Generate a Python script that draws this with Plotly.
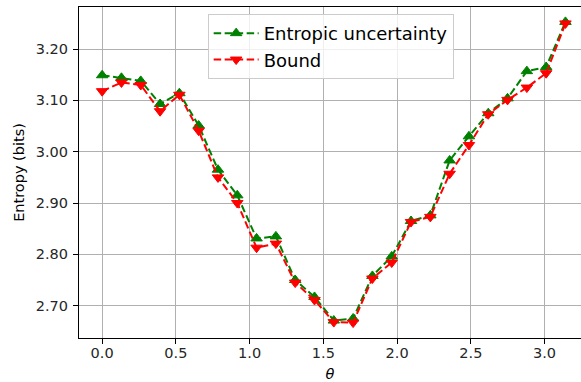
import plotly.graph_objects as go

theta = [0.0, 0.1309, 0.2618, 0.3927, 0.5236, 0.6545, 0.7854, 0.9163, 1.0472,
         1.1781, 1.3090, 1.4399, 1.5708, 1.7017, 1.8326, 1.9635, 2.0944, 2.2253,
         2.3562, 2.4871, 2.6180, 2.7489, 2.8798, 3.0107, 3.1416]
entropic = [3.149, 3.144, 3.138, 3.093, 3.114, 3.051, 2.965, 2.915, 2.831, 2.835,
            2.750, 2.717, 2.671, 2.675, 2.758, 2.796, 2.865, 2.876, 2.983, 3.030,
            3.075, 3.104, 3.157, 3.165, 3.253]
bound = [3.118, 3.135, 3.130, 3.079, 3.111, 3.041, 2.950, 2.900, 2.813, 2.821,
         2.745, 2.711, 2.668, 2.667, 2.753, 2.784, 2.863, 2.873, 2.957, 3.013,
         3.073, 3.101, 3.125, 3.153, 3.250]
x_ticks = [0.0, 0.5, 1.0, 1.5, 2.0, 2.5, 3.0]
y_ticks = [2.70, 2.80, 2.90, 3.00, 3.10, 3.20]

FONT = "DejaVu Sans"
dash = "7.5px,3.5px"

fig = go.Figure()
fig.add_trace(go.Scatter(
    x=theta, y=entropic, mode="lines+markers", name="Entropic uncertainty",
    line=dict(color="green", width=2, dash=dash),
    marker=dict(symbol="triangle-up", size=10, color="green",
                line=dict(color="green", width=1)),
))
fig.add_trace(go.Scatter(
    x=theta, y=bound, mode="lines+markers", name="Bound",
    line=dict(color="red", width=2, dash=dash),
    marker=dict(symbol="triangle-down", size=10, color="red",
                line=dict(color="red", width=1)),
))

axis_common = dict(
    showgrid=True, gridcolor="#b0b0b0", gridwidth=1,
    showline=True, linecolor="black", linewidth=1.1,
    ticks="outside", ticklen=5, tickwidth=1.1, tickcolor="black",
    zeroline=False, automargin=False,
    tickfont=dict(family=FONT, size=14.5, color="#262626"),
)

fig.update_layout(
    width=581, height=382,
    margin=dict(l=78.5, r=0, t=7, b=44),
    paper_bgcolor="white", plot_bgcolor="white",
    font=dict(family=FONT, size=14.5, color="black"),
    xaxis=dict(
        range=[-0.157, 3.247], tickvals=x_ticks, tickformat=".1f",
        mirror=True, ticklabelstandoff=-3,
        title=dict(text="<i>θ</i>", font=dict(family=FONT, size=14.5), standoff=9),
        **axis_common,
    ),
    yaxis=dict(
        range=[2.637, 3.282], tickvals=y_ticks, tickformat=".2f",
        ticklabelstandoff=2,
        title=dict(text="Entropy (bits)", font=dict(family=FONT, size=14.5), standoff=7),
        **axis_common,
    ),
    legend=dict(
        x=0.2563, y=0.979, xanchor="left", yanchor="top",
        bgcolor="rgba(255,255,255,0.8)", bordercolor="#cccccc", borderwidth=1,
        font=dict(family=FONT, size=18, color="black"),
        itemwidth=45,
    ),
    showlegend=True,
)

fig.write_html("out.html", config={"displayModeBar": False},
               post_script="document.body.style.margin='0';")
